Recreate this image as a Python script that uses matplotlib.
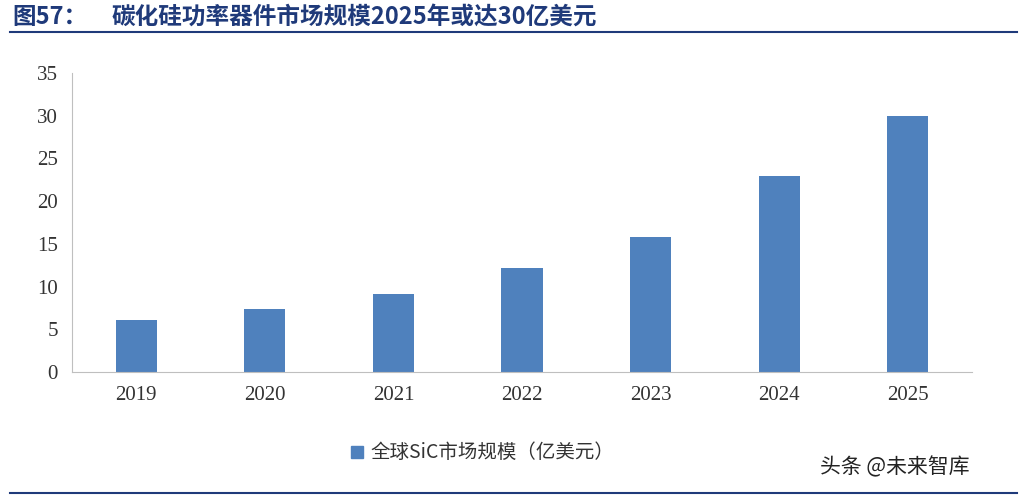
import matplotlib
matplotlib.use("Agg")
import matplotlib.pyplot as plt
from matplotlib.patches import Rectangle

plt.rcParams['font.family'] = ['Noto Sans CJK SC', 'DejaVu Sans']

years = ["2019", "2020", "2021", "2022", "2023", "2024", "2025"]
values = [6.1, 7.4, 9.1, 12.2, 15.8, 22.9, 30.0]
yticks = [0, 5, 10, 15, 20, 25, 30, 35]

W, H = 1027, 499
fig = plt.figure(figsize=(W/100, H/100), dpi=100)
ax = fig.add_axes([72/W, 1-372/H, (972-72)/W, (372-73)/H])
bar_color = "#4F81BD"
ax.bar(range(len(years)), values, width=0.32, color=bar_color)
ax.set_xlim(-0.5, len(years)-0.5)
ax.set_ylim(0, 35)
ax.set_yticks(yticks)
ax.set_xticks(range(len(years)))
ax.set_xticklabels(years)
for lab in ax.get_xticklabels() + ax.get_yticklabels():
    lab.set_family(['Liberation Serif', 'DejaVu Serif'])
    lab.set_fontsize(15)
    lab.set_color("#333333")
for s in ["top", "right"]:
    ax.spines[s].set_visible(False)
for s in ["left", "bottom"]:
    ax.spines[s].set_color("#BFBFBF")
ax.tick_params(axis='both', length=0, pad=10)

# title
fig.text(12/W, 1-17/H, "图57：", fontsize=17, fontweight='bold', color="#1F3A7A", va='center')
fig.text(112/W, 1-17/H, "碳化硅功率器件市场规模2025年或达30亿美元", fontsize=17,
         fontweight='bold', color="#1F3A7A", va='center')
fig.add_artist(plt.Line2D([10/W, 1017/W], [1-32/H, 1-32/H], color="#1F3A7A", lw=1.5))
fig.add_artist(plt.Line2D([10/W, 1017/W], [1-493/H, 1-493/H], color="#1F3A7A", lw=1.5))

# legend
fig.add_artist(Rectangle((351/W, 1-458/H), 12/W, 12/H, color=bar_color, transform=fig.transFigure))
fig.text(370/W, 1-452/H, "全球SiC市场规模（亿美元）", fontsize=14, color="#333333", va='center')

fig.text(820/W, 1-467/H, "头条 @未来智库", fontsize=15, color="#222222", va='center')

fig.savefig("out.png", dpi=100)
